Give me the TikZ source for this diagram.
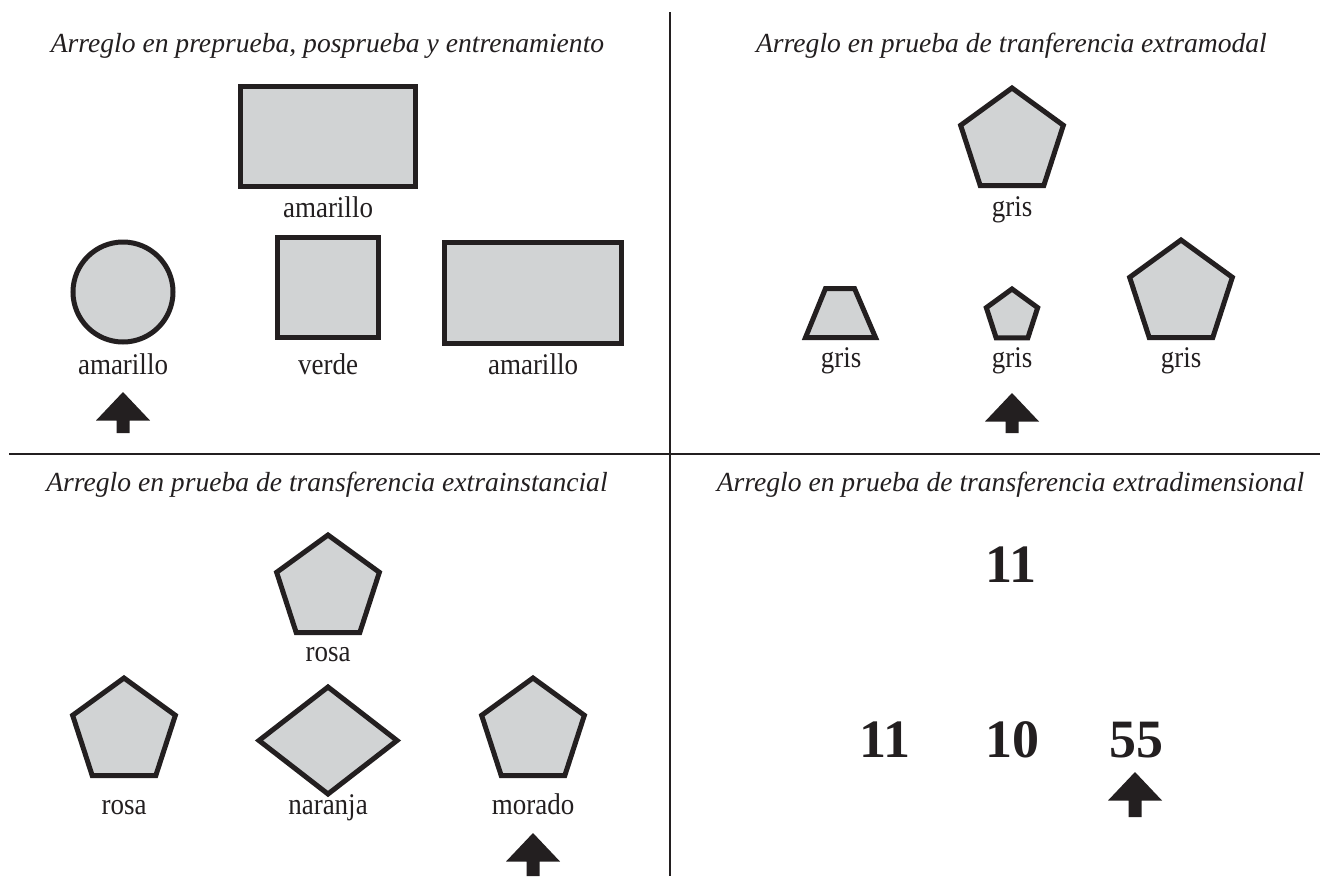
\documentclass[tikz,border=0pt]{standalone}
\usepackage{fontspec}
\setmainfont{Liberation Serif}
\newfontfamily\labelfont[FakeStretch=0.9]{Liberation Serif}
\usetikzlibrary{shapes.geometric}
\definecolor{ink}{HTML}{231F20}
\definecolor{shapefill}{HTML}{D1D3D4}
\newcommand\UpMark[3]{%
  \fill[ink] (#1,#2) -- ({#1+27},{#2+28.5}) -- ({#1+6.5},{#2+28.5}) -- ({#1+6.5},#3)
    -- ({#1-6.5},#3) -- ({#1-6.5},{#2+28.5}) -- ({#1-27},{#2+28.5}) -- cycle;}
\begin{document}
\begin{tikzpicture}[x=1pt,y=-1pt,
  shp/.style={draw=ink, fill=shapefill, line width=5pt},
  pent/.style={shp, regular polygon, regular polygon sides=5, inner sep=0pt, outer sep=0pt, minimum size=#1},
  lbl/.style={font=\labelfont\fontsize{30}{32}\selectfont, text=ink, anchor=base, inner sep=0pt},
  ttl/.style={font=\fontsize{27.6}{30}\selectfont\itshape, text=ink, anchor=base, inner sep=0pt},
  num/.style={font=\fontsize{54}{60}\selectfont\bfseries, text=ink, anchor=base, inner sep=0pt},
  divider/.style={draw=ink, line width=2pt}
]
\useasboundingbox (0,0) rectangle (1320,876);
\fill[white] (0,0) rectangle (1320,876);

% dividers
\coordinate (vtop) at (670,12);
\coordinate (vbot) at (670,876);
\coordinate (hleft) at (9,454);
\coordinate (hright) at (1320,454);
\draw[divider] (vtop) -- (vbot);
\draw[divider] (hleft) -- (hright);

% ---------- panel 1 ----------
\node[ttl] (t1) at (327.5,52) {Arreglo en preprueba, posprueba y entrenamiento};
\draw[shp] (240.5,86.5) rectangle (415.5,186.5);
\node[lbl] (l1a) at (328,217) {amarillo};
\draw[shp] (123,292) circle (50);
\node[lbl] (l1b) at (123,374) {amarillo};
\draw[shp] (277.5,237.5) rectangle (378.5,337.5);
\node[lbl] (l1c) at (328,374) {verde};
\draw[shp] (444.5,242.5) rectangle (621.5,343.5);
\node[lbl] (l1d) at (533,374) {amarillo};
\UpMark{123}{392}{433}

% ---------- panel 2 ----------
\node[ttl] (t2) at (1011.5,52) {Arreglo en prueba de tranferencia extramodal};
\node[pent=108] (p2a) at (1012,142) {};
\node[lbl] (l2a) at (1012,216) {gris};
\draw[shp] (825.5,288.5) -- (854.5,288.5) -- (875.5,337.5) -- (805.5,337.5) -- cycle;
\node[lbl] (l2b) at (841,367) {gris};
\node[pent=54] (p2b) at (1012,316) {};
\node[lbl] (l2c) at (1012,367) {gris};
\node[pent=108] (p2c) at (1181,294) {};
\node[lbl] (l2d) at (1181,367) {gris};
\UpMark{1012}{393}{433}

% ---------- panel 3 ----------
\node[ttl] (t3) at (327,491) {Arreglo en prueba de transferencia extrainstancial};
\node[pent=108] (p3a) at (328,589) {};
\node[lbl] (l3a) at (328,661) {rosa};
\node[pent=108] (p3b) at (124,732) {};
\node[lbl] (l3b) at (124,814) {rosa};
\draw[shp] (328,687) -- (397,740.5) -- (328,794) -- (259,740.5) -- cycle;
\node[lbl] (l3c) at (328,814) {naranja};
\node[pent=108] (p3c) at (533,732) {};
\node[lbl] (l3d) at (533,814) {morado};
\UpMark{533}{833}{876}

% ---------- panel 4 ----------
\node[ttl] (t4) at (1010.5,491) {Arreglo en prueba de transferencia extradimensional};
\node[num] (n4a) at (1011,582) {11};
\node[num] (n4b) at (885,757) {11};
\node[num] (n4c) at (1012,757) {10};
\node[num] (n4d) at (1136,757) {55};
\UpMark{1135}{772}{817}
\end{tikzpicture}
\end{document}
